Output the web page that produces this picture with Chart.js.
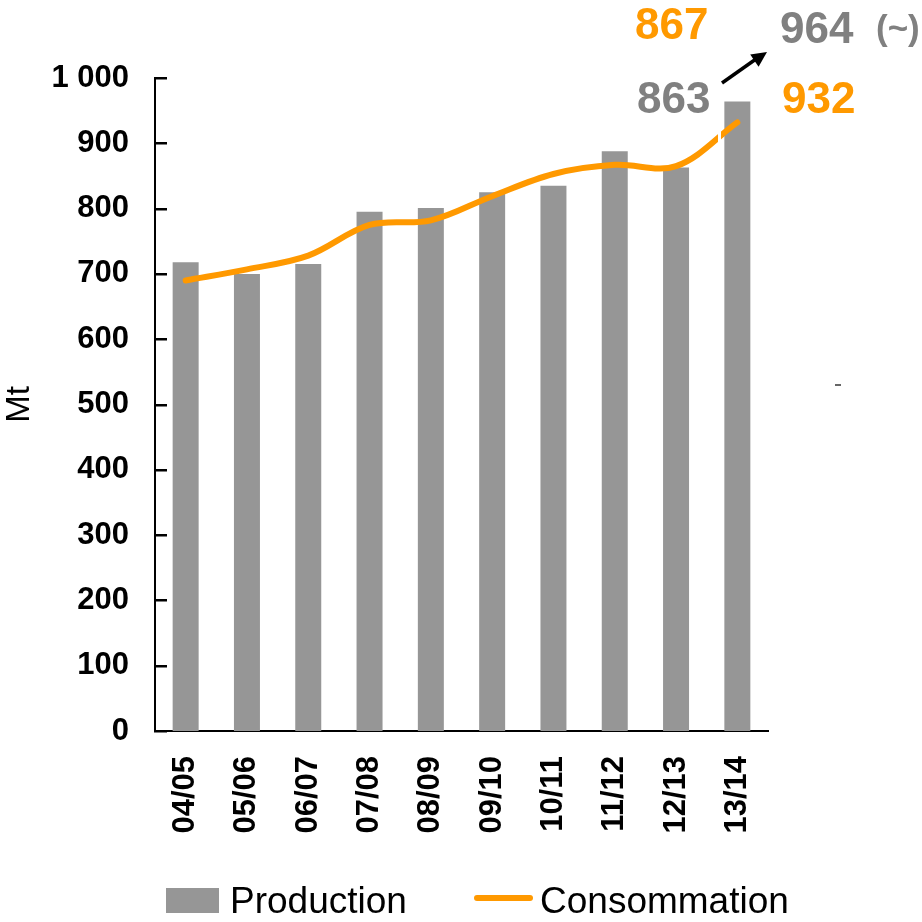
<!DOCTYPE html>
<html lang="fr">
<head>
  <meta charset="UTF-8" />
  <title>Production / Consommation</title>
  <style>
    body { margin: 0; background: #fff; }
    #wrap { width: 922px; height: 922px; }
  </style>
</head>
<body>
  <div id="wrap"><canvas id="chart" width="922" height="922"></canvas></div>
  <script src="https://cdn.jsdelivr.net/npm/chart.js@4"></script>
  <script>
    const seasons = ['04/05', '05/06', '06/07', '07/08', '08/09', '09/10', '10/11', '11/12', '12/13', '13/14'];
    const production = [718, 700, 715, 795, 801, 825, 835, 888, 863, 964];
    const consommation = [690, 707, 728, 775, 782, 819, 853, 867, 865, 932];
    const yTicks = [0, 100, 200, 300, 400, 500, 600, 700, 800, 900, 1000];

    const FONT = '"Liberation Sans", Arial, sans-serif';
    const GREY = '#969696', GREY_TXT = '#808080', ORANGE = '#FF9900';

    const fmt = v => String(v).replace(/\B(?=(\d{3})+(?!\d))/g, ' ');

    // inward ticks on the y axis, notes at top, legend at bottom
    const extras = {
      id: 'extras',
      afterDatasetsDraw(chart) {
        const c = chart.ctx;
        // small white cut in the orange line (text box edge in the original)
        c.save();
        c.fillStyle = '#fff';
        c.fillRect(718, 130, 3, 13);
        c.restore();
      },
      afterDraw(chart) {
        const c = chart.ctx, y = chart.scales.y, a = chart.chartArea;
        c.save();
        c.fillStyle = '#000';
        yTicks.forEach(v => {
          const py = Math.round(y.getPixelForValue(v));
          c.fillRect(a.left - 1, py - 1, 13, 2.5);
        });

        // notes
        c.textBaseline = 'alphabetic';
        c.textAlign = 'left';
        c.font = 'bold 44px ' + FONT;
        c.fillStyle = ORANGE;
        c.fillText(String(consommation[7]), 635, 39);
        c.fillText(String(consommation[9]), 782, 113);
        c.fillStyle = GREY_TXT;
        c.fillText(String(production[8]), 637, 113);
        c.fillText(String(production[9]), 780, 43);
        c.font = 'bold 35px ' + FONT;
        c.fillText('(~)', 876, 40);

        // arrow
        c.strokeStyle = '#000';
        c.fillStyle = '#000';
        c.lineWidth = 3.5;
        c.beginPath();
        c.moveTo(722, 83);
        c.lineTo(756, 59);
        c.stroke();
        const ang = Math.atan2(52 - 83, 767 - 722);
        c.beginPath();
        c.moveTo(767, 52);
        c.lineTo(767 - 17 * Math.cos(ang - 0.45), 52 - 17 * Math.sin(ang - 0.45));
        c.lineTo(767 - 17 * Math.cos(ang + 0.45), 52 - 17 * Math.sin(ang + 0.45));
        c.closePath();
        c.fill();

        // stray dash
        c.lineWidth = 1.5;
        c.strokeStyle = '#333';
        c.beginPath();
        c.moveTo(835, 385);
        c.lineTo(841, 385);
        c.stroke();

        // legend
        c.fillStyle = GREY;
        c.fillRect(166, 888, 53, 25);
        c.font = '37px ' + FONT;
        c.fillStyle = '#000';
        c.fillText('Production', 230, 913);
        c.strokeStyle = ORANGE;
        c.lineWidth = 6;
        c.lineCap = 'round';
        c.beginPath();
        c.moveTo(477, 898);
        c.lineTo(530, 898);
        c.stroke();
        c.fillText('Consommation', 540, 913);
        c.restore();
      }
    };

    new Chart(document.getElementById('chart'), {
      type: 'bar',
      data: {
        labels: seasons,
        datasets: [
          {
            type: 'line', label: 'Consommation', data: consommation, order: 0,
            borderColor: ORANGE, borderWidth: 6, tension: 0.35, pointRadius: 0,
            borderCapStyle: 'round', borderJoinStyle: 'round', fill: false
          },
          {
            type: 'bar', label: 'Production', data: production, order: 1,
            backgroundColor: GREY, borderWidth: 0,
            barPercentage: 0.424, categoryPercentage: 1
          }
        ]
      },
      options: {
        responsive: false,
        animation: false,
        layout: { padding: { top: 78, right: 154, left: 0, bottom: 0 } },
        plugins: { legend: { display: false }, tooltip: { enabled: false } },
        scales: {
          x: {
            grid: { display: false, drawTicks: false },
            border: { display: true, color: '#000', width: 2 },
            ticks: {
              autoSkip: false, minRotation: 90, maxRotation: 90, padding: 25,
              color: '#000', font: { family: FONT, size: 31, weight: 'bold' }
            },
            afterFit(s) { s.height = 191; }
          },
          y: {
            min: 0, max: 1000,
            afterBuildTicks(s) { s.ticks = yTicks.map(v => ({ value: v })); },
            grid: { display: false, drawTicks: false },
            border: { display: true, color: '#000', width: 2 },
            ticks: {
              padding: 26, color: '#000',
              font: { family: FONT, size: 31, weight: 'bold' },
              callback: v => fmt(v)
            },
            title: {
              display: true, text: 'Mt', color: '#000',
              font: { family: FONT, size: 33 }, padding: { top: 0, bottom: 0 }
            },
            afterFit(s) { s.width = 155; }
          }
        }
      },
      plugins: [extras]
    });
  </script>
</body>
</html>
